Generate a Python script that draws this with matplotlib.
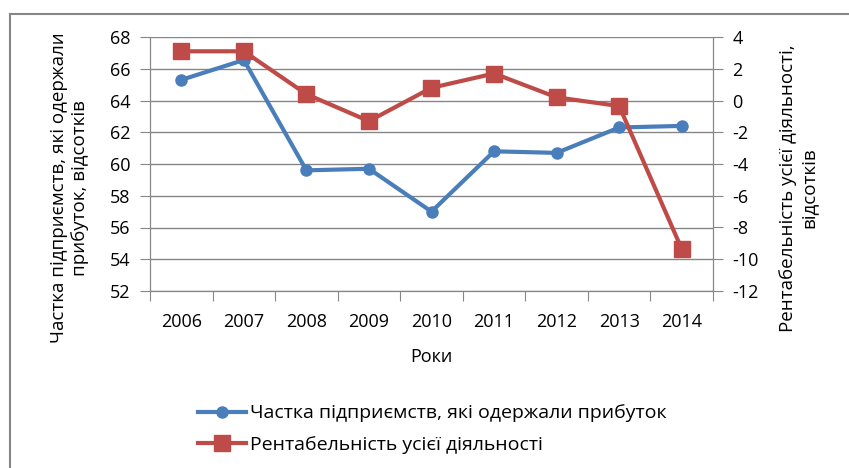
import matplotlib
matplotlib.use("Agg")
import matplotlib.pyplot as plt
from matplotlib.lines import Line2D

plt.rcParams['font.family'] = ['Open Sans', 'DejaVu Sans']
plt.rcParams['axes.unicode_minus'] = False

years = ['2006', '2007', '2008', '2009', '2010', '2011', '2012', '2013', '2014']
share_profit = [65.3, 66.55, 59.6, 59.7, 57.0, 60.8, 60.7, 62.3, 62.4]
profitability = [3.1, 3.1, 0.4, -1.3, 0.8, 1.7, 0.2, -0.35, -9.35]

blue = '#4a7ebb'
red = '#be4b48'
grid_c = '#868686'

fig = plt.figure(figsize=(8.49, 4.68), dpi=100)
ax = fig.add_axes([150/849, 1-291/468, (713-150)/849, (291-37)/468])
ax2 = ax.twinx()

x = list(range(len(years)))
l1, = ax.plot(x, share_profit, color=blue, lw=3, marker='o', ms=8, label='Частка підприємств, які одержали прибуток')
l2, = ax2.plot(x, profitability, color=red, lw=3, marker='s', ms=12, label='Рентабельність усієї діяльності')

ax.set_xlim(-0.5, len(years) - 0.5)
ax.set_ylim(52, 68)
ax.set_yticks(range(52, 69, 2))
ax2.set_ylim(-12, 4)
ax2.set_yticks(range(-12, 5, 2))

ax.set_xticks([i - 0.5 for i in range(len(years) + 1)], minor=False)
ax.set_xticklabels([])
ax.set_xticks(x, minor=True)
ax.set_xticklabels(years, minor=True)
ax.tick_params(axis='x', which='major', length=7, color=grid_c, direction='out')
ax.tick_params(axis='x', which='minor', length=0, labelsize=13, pad=16)
ax.tick_params(axis='y', length=7, color=grid_c, labelsize=13, pad=7)
ax2.tick_params(axis='y', length=7, color=grid_c, labelsize=13, pad=7)

ax.yaxis.grid(True, color=grid_c, lw=1)
ax.set_axisbelow(True)
for a in (ax, ax2):
    a.spines['top'].set_visible(False)
    for s in ('left', 'right', 'bottom'):
        a.spines[s].set_color(grid_c)

ax.set_xlabel('Роки', fontsize=13, labelpad=12)
ax.set_ylabel('Частка підприємств, які одержали\nприбуток, відсотків', fontsize=13.5)
ax2.set_ylabel('Рентабельність усієї діяльності,\nвідсотків', fontsize=13.5)
ax.yaxis.set_label_coords(-0.108, 0.405)
ax2.yaxis.set_label_coords(1.117, 0.405)

fig.legend(handles=[l1, l2], loc='upper left', bbox_to_anchor=(180/849, 1-387/468),
           frameon=False, fontsize=14, handlelength=2.5, labelspacing=0.7, handletextpad=0.2)

fig.add_artist(Line2D([10/849, 10/849], [0, 1-14/468], transform=fig.transFigure, color=grid_c, lw=1.5))
fig.add_artist(Line2D([10/849, 1], [1-14/468, 1-14/468], transform=fig.transFigure, color=grid_c, lw=1.5))

fig.savefig('out.png', dpi=100)
